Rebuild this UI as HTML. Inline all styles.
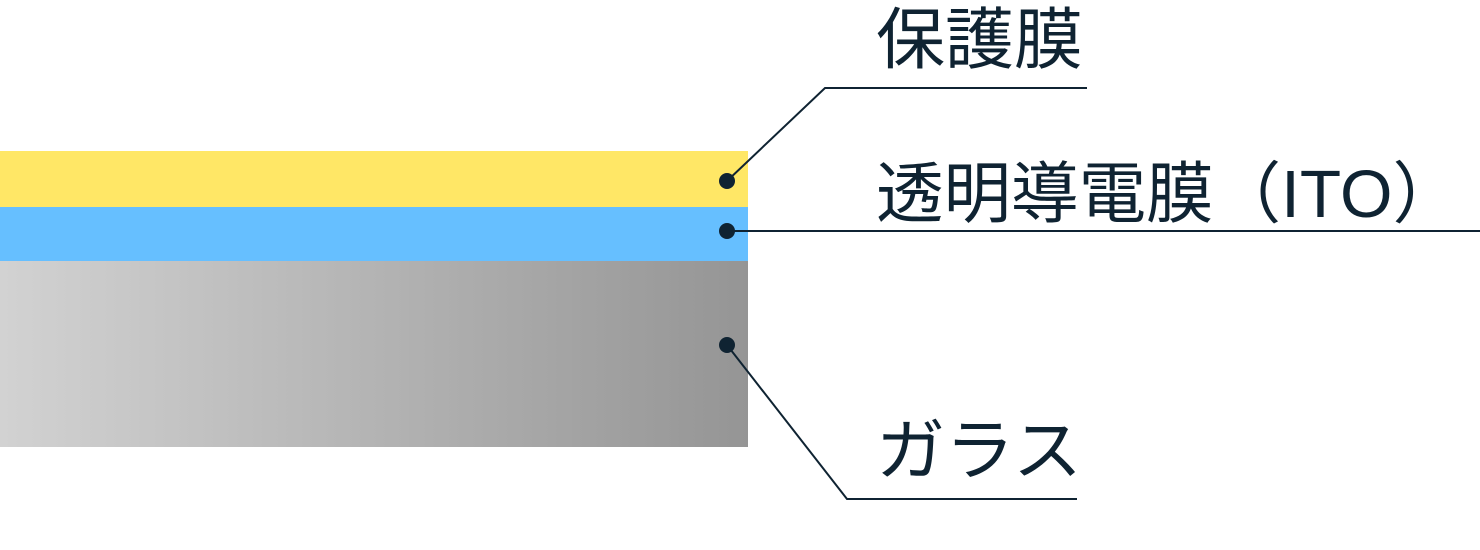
<!DOCTYPE html>
<html><head><meta charset="utf-8"><style>
html,body{margin:0;padding:0;background:#fff;}
svg{display:block}
text{font-family:"Liberation Sans","Noto Sans CJK JP",sans-serif;fill:#0f2332;font-size:67px;}
</style></head><body>
<svg width="1480" height="550" viewBox="0 0 1480 550" xmlns="http://www.w3.org/2000/svg">
<defs><linearGradient id="g" x1="0" x2="1" y1="0" y2="0"><stop offset="0" stop-color="#d2d2d2"/><stop offset="1" stop-color="#959595"/></linearGradient></defs>
<rect x="0" y="151" width="748" height="56" fill="#ffe766"/>
<rect x="0" y="207" width="748" height="54" fill="#66bfff"/>
<rect x="0" y="261" width="748" height="186" fill="url(#g)"/>
<g stroke="#0f2332" stroke-width="2" fill="none">
<polyline points="727,181 825,88 1087,88"/>
<polyline points="727,231 1480,231"/>
<polyline points="727,345 847,499 1077,499"/>
</g>
<g fill="#0f2332"><circle cx="727" cy="181" r="8"/><circle cx="727" cy="231" r="8"/><circle cx="727" cy="345" r="8"/></g>
<text x="876" y="63" textLength="207" lengthAdjust="spacingAndGlyphs">保護膜</text>
<text x="876" y="217" textLength="584" lengthAdjust="spacingAndGlyphs">透明導電膜（ITO）</text>
<text x="876" y="474" textLength="206" lengthAdjust="spacingAndGlyphs">ガラス</text>
</svg>
</body></html>
